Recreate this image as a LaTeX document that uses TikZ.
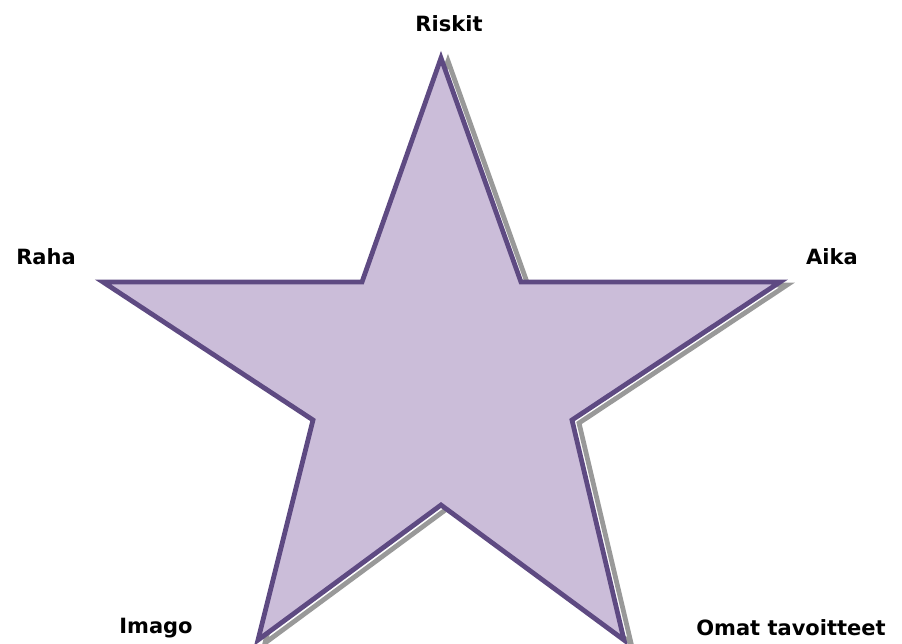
\documentclass[tikz,border=0pt]{standalone}
\usepackage{fontspec}
\setmainfont{DejaVu Sans}
\definecolor{starfill}{HTML}{CBBDD9}
\definecolor{starline}{HTML}{5E4A82}
\definecolor{shadowgray}{HTML}{999999}
\begin{document}
\begin{tikzpicture}[x=1pt,y=-1pt,
  lbl/.style={font=\fontsize{21}{25}\selectfont\bfseries, text=black, inner sep=0pt},
  starshape/.style={fill=starfill, draw=starline, line width=4.8pt, line join=miter},
  shadowshape/.style={draw=shadowgray, line width=4.8pt, line join=miter}]
\useasboundingbox (0,0) rectangle (902,643);
% shadow
\begin{scope}[shift={(7,3)}]
\draw[shadowshape] (441,58) -- (521,282) -- (780,282) -- (572,420) -- (624,640) -- (441,505) -- (258,640) -- (313,420) -- (103,282) -- (362,282) -- cycle;
\end{scope}
% star
\draw[starshape] (441,58) -- (521,282) -- (780,282) -- (572,420) -- (624,640) -- (441,505) -- (258,640) -- (313,420) -- (103,282) -- (362,282) -- cycle;
\node[lbl] (riskit) at (449,24) {Riskit};
\node[lbl] (raha) at (46,257) {Raha};
\node[lbl] (aika) at (832,257) {Aika};
\node[lbl] (imago) at (156,628) {Imago};
\node[lbl] (omat) at (791,628) {Omat tavoitteet};
\end{tikzpicture}
\end{document}
